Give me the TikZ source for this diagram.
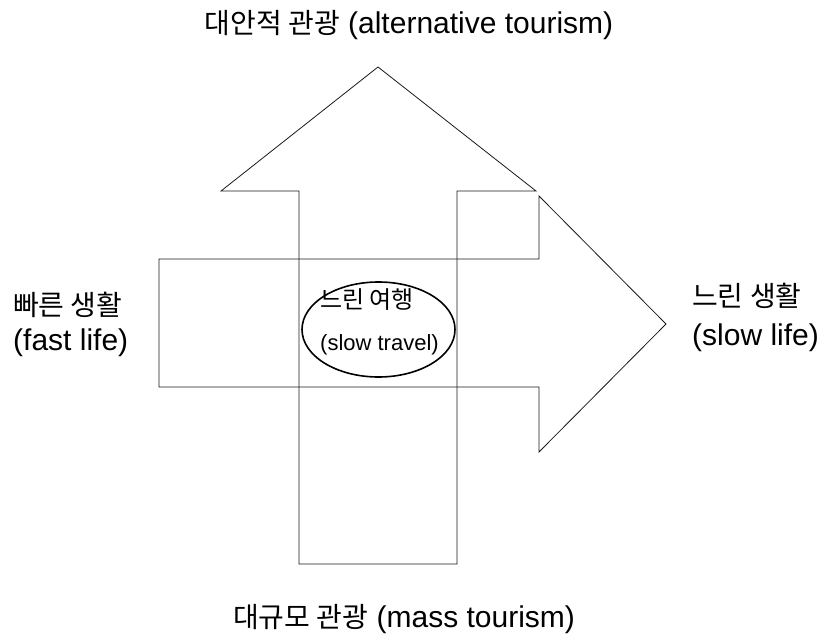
\documentclass[tikz,border=0pt]{standalone}
\usepackage{fontspec}
\usetikzlibrary{shapes.geometric}
\setmainfont{Liberation Sans}
\newfontfamily\kr{Noto Sans CJK KR}
\begin{document}
\begin{tikzpicture}[x=1pt,y=-1pt,
  outline/.style={draw=black!90,line width=0.8pt,line join=miter},
  lbl/.style={inner sep=0pt,font=\fontsize{30}{36}\selectfont},
  small/.style={inner sep=0pt,font=\fontsize{22}{26}\selectfont}]
\newcommand\krL[1]{{\kr\fontsize{28}{34}\selectfont #1}}
\newcommand\krS[1]{{\kr\fontsize{24}{28}\selectfont #1}}
\useasboundingbox (0,0) rectangle (821,636);
% up arrow
\draw[outline] (299,564) -- (299,191) -- (221,191) -- (378,67) -- (536,191)
  -- (457,191) -- (457,564) -- cycle;
% right arrow
\draw[outline] (159,259) -- (539,259) -- (539,196) -- (666,324) -- (539,452)
  -- (539,387) -- (159,387) -- cycle;
% ellipse
\node[draw,line width=1.6pt,ellipse,minimum width=153pt,minimum height=95pt,inner sep=0pt] (st) at (378.5,329.5) {};
\node[small,anchor=west] (st1) at (320,300) {\krS{느린 여행}};
\node[small,anchor=west] (st2) at (320,345) {(slow travel)};
% labels
\node[lbl] (top) at (409,25) {\krL{대안적 관광} (alternative tourism)};
\node[lbl,anchor=west] (bot) at (233,619) {\krL{대규모 관광} (mass tourism)};
\node[lbl,anchor=west] (l1) at (13,305) {\krL{빠른 생활}};
\node[lbl,anchor=west] (l2) at (13,343) {(fast life)};
\node[lbl,anchor=west] (r1) at (692,296) {\krL{느린 생활}};
\node[lbl,anchor=west] (r2) at (692,338) {(slow life)};
\end{tikzpicture}
\end{document}
